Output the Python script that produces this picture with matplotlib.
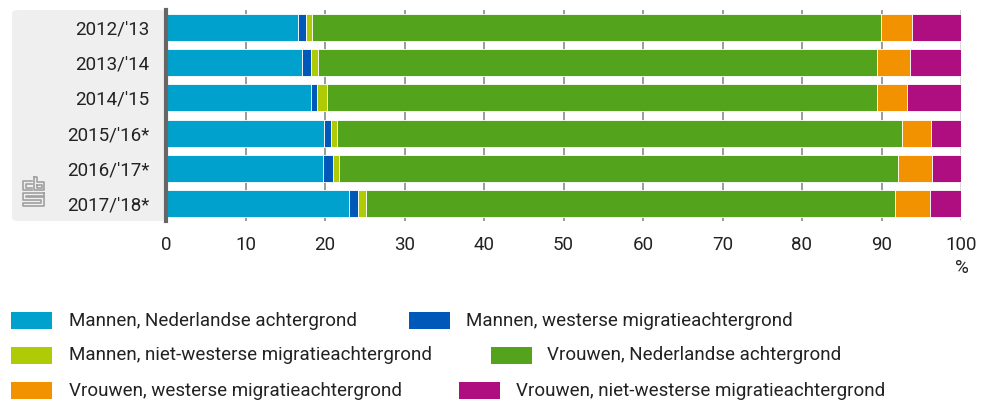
import matplotlib
matplotlib.use("Agg")
import matplotlib.pyplot as plt
from matplotlib.patches import Rectangle, FancyBboxPatch
from matplotlib.lines import Line2D
import numpy as np

plt.rcParams['font.family'] = ['Roboto', 'DejaVu Sans']

categories = ["2012/'13", "2013/'14", "2014/'15", "2015/'16*", "2016/'17*", "2017/'18*"]
series_names = [
    "Mannen, Nederlandse achtergrond",
    "Mannen, westerse migratieachtergrond",
    "Mannen, niet-westerse migratieachtergrond",
    "Vrouwen, Nederlandse achtergrond",
    "Vrouwen, westerse migratieachtergrond",
    "Vrouwen, niet-westerse migratieachtergrond",
]
mannen_ned = [16.6, 17.1, 18.3, 19.9, 19.8, 23.0]
mannen_west = [1.0, 1.1, 0.7, 0.9, 1.2, 1.2]
mannen_nietwest = [0.8, 0.9, 1.2, 0.7, 0.8, 0.9]
vrouwen_ned = [71.5, 70.3, 69.2, 71.1, 70.3, 66.6]
vrouwen_west = [3.9, 4.2, 3.8, 3.6, 4.2, 4.4]
vrouwen_nietwest = [6.2, 6.4, 6.8, 3.8, 3.7, 3.9]
x_ticks = [0, 10, 20, 30, 40, 50, 60, 70, 80, 90, 100]

series = [mannen_ned, mannen_west, mannen_nietwest, vrouwen_ned, vrouwen_west, vrouwen_nietwest]
colors = ['#00a1cd', '#0058b8', '#afcb05', '#53a31d', '#f39200', '#af0e80']

W, H = 983, 401
fig = plt.figure(figsize=(W / 100, H / 100), dpi=100)

def fx(x):
    return x / W

def fy(y):
    return 1 - y / H

# grey label background box
box = FancyBboxPatch((fx(12), fy(221)), fx(166) - fx(12), fy(10) - fy(221),
                     boxstyle="round,pad=0,rounding_size=0.008",
                     transform=fig.transFigure, facecolor='#efefef',
                     edgecolor='none', zorder=-5)
fig.patches.append(box)

ax = fig.add_axes([fx(166), fy(221), fx(961) - fx(166), fy(10) - fy(221)])
ax.set_facecolor('none')
ax.set_zorder(2)

y = np.arange(len(categories))
left = np.zeros(len(categories))
for vals, col in zip(series, colors):
    ax.barh(y, vals, left=left, height=0.77, color=col, edgecolor='white',
            linewidth=0.6, zorder=3)
    left = left + np.array(vals)

ax.set_xlim(0, 100)
ax.set_ylim(len(categories) - 0.5, -0.5)
for t in x_ticks[1:]:
    ax.axvline(t, color='#8a8a8a' if t < 100 else '#d0d0d0', linewidth=1.2, zorder=1)
ax.set_yticks(y)
ax.set_yticklabels(categories)
ax.set_xticks(x_ticks)
ax.set_xticklabels([str(t) for t in x_ticks])
ax.tick_params(axis='y', length=0, pad=12, labelsize=13.5, labelcolor='#222222')
ax.tick_params(axis='x', length=0, pad=11, labelsize=13.5, labelcolor='#222222')
ax.grid(False)
for s in ['top', 'right', 'bottom']:
    ax.spines[s].set_visible(False)
ax.spines['left'].set_color('#666666')
ax.spines['left'].set_linewidth(3)
ax.spines['left'].set_zorder(5)

fig.text(fx(962), fy(268), '%', ha='center', va='center', fontsize=13.5, color='#222222')

# CBS logo (approximation)
def poly(pts, lw=1.2):
    xs = [fx(p[0]) for p in pts]
    ys = [fy(p[1]) for p in pts]
    fig.add_artist(Line2D(xs, ys, transform=fig.transFigure, color='#a0a0a0', lw=lw))

poly([(32, 181), (23, 181), (23, 190), (32, 190)])
poly([(32, 183.5), (25.5, 183.5), (25.5, 187.5), (32, 187.5)])
poly([(34, 177), (34, 190), (44, 190), (44, 182), (37, 182), (37, 177), (34, 177)])
poly([(36.5, 184.5), (41.5, 184.5), (41.5, 187.5), (36.5, 187.5), (36.5, 184.5)])
poly([(44, 193), (23, 193), (23, 200), (41, 200), (41, 203), (23, 203), (23, 206), (44, 206), (44, 197), (26, 197), (26, 196), (44, 196), (44, 193)])

# legend
legend_items = [
    (0, 11, 69, 320.5),
    (1, 409, 466, 320.5),
    (2, 11, 69, 355.5),
    (3, 491, 547, 355.5),
    (4, 11, 69, 390.5),
    (5, 459, 516, 390.5),
]
for idx, px, tx, cy in legend_items:
    r = Rectangle((fx(px), fy(cy + 8.5)), fx(41), 17 / H, transform=fig.transFigure,
                  facecolor=colors[idx], edgecolor='none')
    fig.patches.append(r)
    fig.text(fx(tx), fy(cy), series_names[idx], ha='left', va='center',
             fontsize=13.5, color='#222222')

fig.savefig('out.png', dpi=100)
